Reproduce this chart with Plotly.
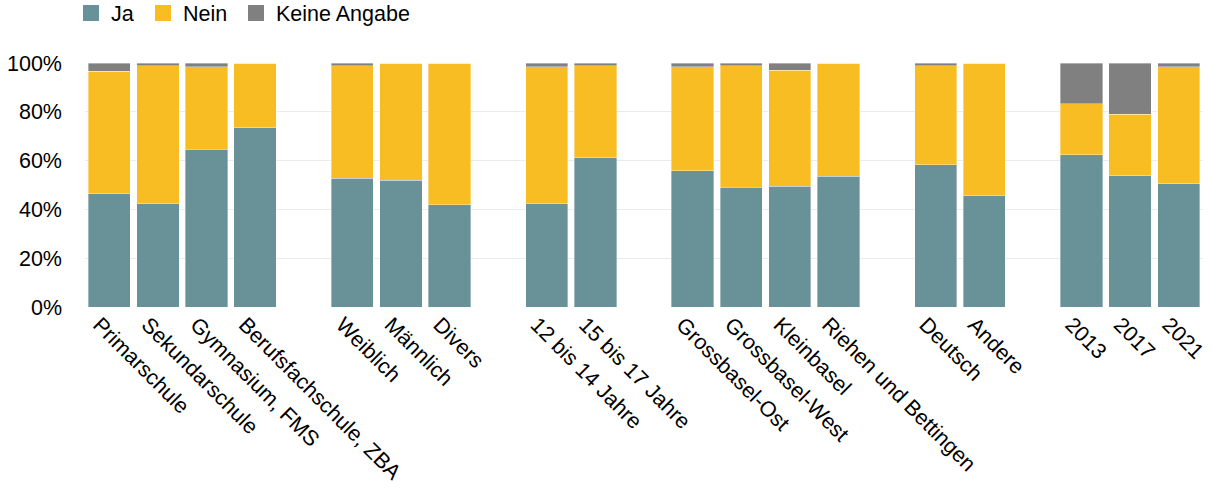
import plotly.graph_objects as go

# Categories in groups (a blank slot separates the groups)
groups = [
    ["Primarschule", "Sekundarschule", "Gymnasium, FMS", "Berufsfachschule, ZBA"],
    ["Weiblich", "Männlich", "Divers"],
    ["12 bis 14 Jahre", "15 bis 17 Jahre"],
    ["Grossbasel-Ost", "Grossbasel-West", "Kleinbasel", "Riehen und Bettingen"],
    ["Deutsch", "Andere"],
    ["2013", "2017", "2021"],
]

# Values in percent, same order as the flattened categories
ja = [46.4, 42.4, 64.6, 73.4,
      52.8, 52.0, 42.0,
      42.4, 61.2,
      55.8, 49.0, 49.4, 53.5,
      58.4, 45.5,
      62.4, 53.8, 50.6]
nein = [50.3, 56.5, 33.9, 26.6,
        46.1, 48.0, 58.0,
        56.0, 37.7,
        42.6, 49.9, 47.6, 46.5,
        40.5, 54.5,
        21.0, 25.2, 47.8]
keine = [3.3, 1.1, 1.5, 0.0,
         1.1, 0.0, 0.0,
         1.6, 1.1,
         1.6, 1.1, 3.0, 0.0,
         1.1, 0.0,
         16.6, 21.0, 1.6]

y_tick_values = [0, 20, 40, 60, 80, 100]
y_tick_labels = ["0%", "20%", "40%", "60%", "80%", "100%"]

series_names = ["Ja", "Nein", "Keine Angabe"]
series_colors = ["#699198", "#F9BD24", "#808080"]

# Build slot positions (one empty slot between groups)
categories = []
positions = []
slot = 0
for gi, grp in enumerate(groups):
    if gi > 0:
        slot += 1
    for c in grp:
        categories.append(c)
        positions.append(slot)
        slot += 1
n_slots = slot

FONT = "Arial, Liberation Sans, sans-serif"
FS = 21.5
W, H = 1213, 495
ML, MR, MT, MB = 85, 10, 63, 188
PLOT_W = W - ML - MR
PLOT_H = H - MT - MB

fig = go.Figure()
for name, vals, col in zip(series_names, [ja, nein, keine], series_colors):
    fig.add_trace(go.Bar(
        x=positions, y=vals, name=name, showlegend=False,
        marker=dict(color=col, line=dict(width=0.6, color="rgba(255,255,255,0.6)")),
        hovertemplate="%{y:.1f}%<extra>" + name + "</extra>",
    ))

# legend entries (one small legend per series so spacing matches)
legend_left_px = [71, 143, 236]
legend_ids = ["legend", "legend2", "legend3"]
legend_y = 1 + (MT + 7.4) / PLOT_H
for name, col, lid, lx in zip(series_names, series_colors, legend_ids, legend_left_px):
    fig.add_trace(go.Scatter(
        x=[None], y=[None], name=name, mode="markers", legend=lid,
        marker=dict(symbol="square", size=17, color=col),
    ))
    fig.update_layout({lid: dict(
        orientation="h", x=(lx - ML) / PLOT_W, xanchor="left",
        y=legend_y, yanchor="top", font=dict(size=FS), itemclick=False,
        itemsizing="trace", bgcolor="rgba(0,0,0,0)",
    )})

fig.update_layout(
    barmode="stack",
    bargap=0.13,
    width=W, height=H,
    margin=dict(l=ML, r=MR, t=MT, b=MB, autoexpand=False),
    paper_bgcolor="white", plot_bgcolor="white",
    font=dict(family=FONT, size=FS, color="black"),
    showlegend=True,
)
fig.update_xaxes(
    range=[-0.5, n_slots - 0.5],
    tickmode="array", tickvals=positions, ticktext=categories,
    tickangle=45, showgrid=False, zeroline=False, showline=False, ticks="",
    tickfont=dict(size=FS), automargin=False, ticklabeloverflow="allow",
    ticklabelshift=-10,
)
fig.update_yaxes(
    range=[0, 100], tickmode="array", tickvals=y_tick_values, ticktext=y_tick_labels,
    showgrid=True, gridcolor="#EBEBEB", gridwidth=1, zeroline=False,
    showline=False, ticks="", tickfont=dict(size=FS), ticklabelstandoff=22,
    automargin=False,
)

fig.write_html("out.html", config={"displayModeBar": False},
               post_script="document.body.style.margin='0';")
